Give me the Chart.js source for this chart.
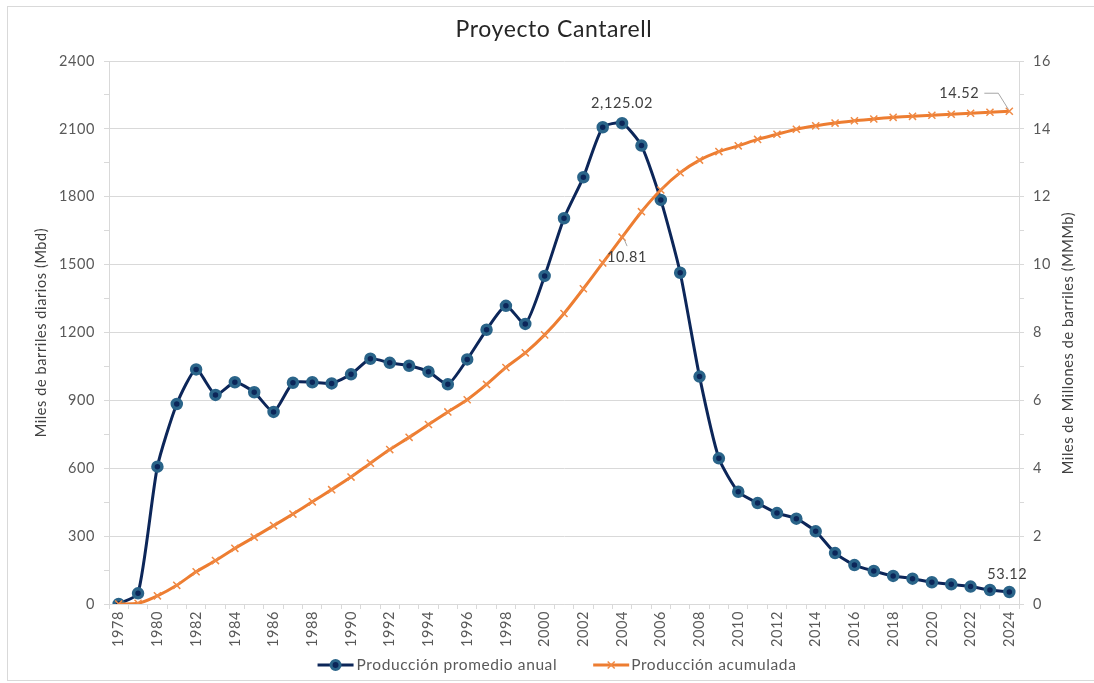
<!DOCTYPE html>
<html>
<head>
<meta charset="utf-8">
<script src="https://cdn.jsdelivr.net/npm/chart.js@4.4.1/dist/chart.umd.min.js"></script>
<style>
  html, body { margin: 0; padding: 0; background: #fff; overflow: hidden; }
  #wrap { position: relative; width: 1094px; height: 683px; }
  #frame { position: absolute; left: 7px; top: 6px; width: 1200px; height: 675px;
           border: 1px solid #d9d9d9; box-sizing: border-box; }
  canvas { position: absolute; left: 0; top: 0; }
</style>
</head>
<body>
<div id="wrap">
  <div id="frame"></div>
  <canvas id="myChart" width="1094" height="683"></canvas>
</div>
<script>
// years on the category axis
const years = [];
for (let y = 1978; y <= 2024; y++) years.push(String(y));

// Producción promedio anual (Mbd) - left axis
const prodAnual = [
    0, 47, 607, 884, 1037, 924, 980, 936, 849, 978,
    980, 975, 1015, 1084, 1066, 1053, 1027, 971, 1081, 1212,
    1318, 1238, 1450, 1705, 1886, 2107, 2125.02, 2026, 1786, 1464,
    1005, 644, 496, 446, 402, 377, 321, 225, 172, 146,
    124, 112, 96, 87, 77, 62, 53.12
];

// Producción acumulada (MMMb) - right axis
const prodAcumulada = [
    0, 0.02, 0.24, 0.55, 0.95, 1.28, 1.64, 1.97, 2.31, 2.65,
    3.01, 3.37, 3.74, 4.15, 4.55, 4.91, 5.29, 5.66, 6.02, 6.47,
    6.97, 7.40, 7.93, 8.56, 9.29, 10.05, 10.81, 11.56, 12.20, 12.71,
    13.08, 13.33, 13.50, 13.69, 13.84, 13.99, 14.09, 14.17, 14.24, 14.29,
    14.34, 14.37, 14.40, 14.43, 14.46, 14.49, 14.52
];

const leftTicks = [0, 300, 600, 900, 1200, 1500, 1800, 2100, 2400];
const rightTicks = [0, 2, 4, 6, 8, 10, 12, 14, 16];

const NAVY = '#0c2659';
const RING = '#2a6489';
const ORANGE = '#ed7d31';
const GRID = '#d9d9d9';
const TEXT = '#595959';
const FONT = 'Lato';

function fmt(v, dec) {
    return v.toLocaleString('en-US', { minimumFractionDigits: dec, maximumFractionDigits: dec });
}

// slightly wider text, like the source
const spacingPlugin = {
    id: 'spacing',
    beforeUpdate(chart) { chart.ctx.letterSpacing = '0.6px'; },
    beforeDraw(chart) { chart.ctx.letterSpacing = '0.6px'; }
};

// draw a legend sample: line with its marker on top
function drawSample(ctx, x, y, kind) {
    ctx.save();
    ctx.lineWidth = 3;
    ctx.strokeStyle = kind === 'blue' ? NAVY : ORANGE;
    ctx.beginPath(); ctx.moveTo(x, y); ctx.lineTo(x + 36, y); ctx.stroke();
    if (kind === 'blue') {
        ctx.beginPath(); ctx.arc(x + 18, y, 4.5, 0, Math.PI * 2);
        ctx.fillStyle = NAVY; ctx.fill();
        ctx.lineWidth = 3; ctx.strokeStyle = RING; ctx.stroke();
    } else {
        ctx.lineWidth = 1.5; ctx.strokeStyle = '#f08a45';
        ctx.beginPath();
        ctx.moveTo(x + 14.5, y - 3.5); ctx.lineTo(x + 21.5, y + 3.5);
        ctx.moveTo(x + 21.5, y - 3.5); ctx.lineTo(x + 14.5, y + 3.5);
        ctx.stroke();
    }
    ctx.restore();
}

// title, right axis title (reads bottom to top), legend and data labels
const extrasPlugin = {
    id: 'extras',
    afterDraw(chart) {
        const ctx = chart.ctx;

        ctx.save();
        ctx.textAlign = 'center';
        ctx.textBaseline = 'middle';
        ctx.fillStyle = '#262626';
        ctx.font = '23px ' + FONT;
        ctx.fillText('Proyecto Cantarell', 554, 30);

        ctx.fillStyle = '#404040';
        ctx.font = '14.5px ' + FONT;
        ctx.translate(1068, 343);
        ctx.rotate(-Math.PI / 2);
        ctx.fillText('Miles de Millones de barriles (MMMb)', 0, 0);
        ctx.restore();

        // legend
        ctx.save();
        ctx.font = '15.5px ' + FONT;
        ctx.fillStyle = TEXT;
        ctx.textBaseline = 'middle';
        ctx.textAlign = 'left';
        const names = chart.data.datasets.map(d => d.label);
        const w0 = ctx.measureText(names[0]).width;
        const w1 = ctx.measureText(names[1]).width;
        const total = 36 + 3 + w0 + 36 + 36 + 2 + w1;
        let lx = 557 - total / 2;
        const ly = 665;
        drawSample(ctx, lx, ly, 'blue');
        ctx.fillText(names[0], lx + 39, ly);
        lx += 39 + w0 + 36;
        drawSample(ctx, lx, ly, 'orange');
        ctx.fillText(names[1], lx + 38, ly);
        ctx.restore();

        const x = chart.scales.x;
        const yL = chart.scales.y;
        const yR = chart.scales.y1;
        ctx.save();
        ctx.font = '14.5px ' + FONT;
        ctx.fillStyle = '#404040';
        ctx.textAlign = 'center';
        ctx.textBaseline = 'middle';

        // peak of annual production
        const iPeak = 26;
        let px = x.getPixelForValue(iPeak), py = yL.getPixelForValue(prodAnual[iPeak]);
        ctx.fillText(fmt(prodAnual[iPeak], 2), px, py - 20);

        // last annual value
        const iLast = prodAnual.length - 1;
        px = x.getPixelForValue(iLast); py = yL.getPixelForValue(prodAnual[iLast]);
        ctx.fillText(fmt(prodAnual[iLast], 2), px - 2, py - 18);

        // cumulative 2004
        px = x.getPixelForValue(iPeak); py = yR.getPixelForValue(prodAcumulada[iPeak]);
        ctx.strokeStyle = '#a6a6a6'; ctx.lineWidth = 1;
        ctx.beginPath(); ctx.moveTo(px + 2, py + 2); ctx.lineTo(px + 5, py + 9); ctx.stroke();
        ctx.fillText(fmt(prodAcumulada[iPeak], 2), px + 5, py + 20);

        // cumulative last
        px = x.getPixelForValue(iLast); py = yR.getPixelForValue(prodAcumulada[iLast]);
        ctx.beginPath();
        ctx.moveTo(px - 25, py - 18); ctx.lineTo(px - 11, py - 18); ctx.lineTo(px - 1, py - 2);
        ctx.stroke();
        ctx.fillText(fmt(prodAcumulada[iLast], 2), px - 50, py - 18);
        ctx.restore();
    }
};

const ctx = document.getElementById('myChart').getContext('2d');

const chartData = {
    labels: years,
    datasets: [{
        label: 'Producción promedio anual',
        data: prodAnual,
        yAxisID: 'y',
        borderColor: NAVY,
        borderWidth: 3,
        pointStyle: 'circle',
        pointRadius: 4.5,
        pointBorderWidth: 3.5,
        pointBorderColor: RING,
        pointBackgroundColor: NAVY,
        tension: 0.2,
        order: 2
    }, {
        label: 'Producción acumulada',
        data: prodAcumulada,
        yAxisID: 'y1',
        borderColor: ORANGE,
        borderWidth: 3,
        pointStyle: 'crossRot',
        pointRadius: 5,
        pointBorderWidth: 1.5,
        pointBorderColor: '#f08a45',
        tension: 0.2,
        order: 1
    }]
};

const chartConfig = {
    type: 'line',
    data: chartData,
    plugins: [spacingPlugin, extrasPlugin],
    options: {
        responsive: false,
        animation: false,
        layout: { padding: { left: 0, right: 0, top: 61, bottom: 36 } },
        plugins: {
            title: { display: false },
            legend: { display: false },
            tooltip: { enabled: false }
        },
        scales: {
            x: {
                type: 'category',
                offset: true,
                grid: { offset: true, drawOnChartArea: false, tickLength: 5, color: GRID },
                border: { display: true, color: GRID },
                ticks: {
                    autoSkip: false,
                    maxRotation: 90,
                    minRotation: 90,
                    padding: 2,
                    color: TEXT,
                    font: { family: FONT, size: 14.5 },
                    callback(v, i) { return i % 2 === 0 ? years[i] : ''; }
                },
                afterFit(scale) { scale.height = 43; }
            },
            y: {
                position: 'left',
                min: 0,
                max: 2400,
                grid: {
                    color: (c) => leftTicks.includes(c.tick.value) ? GRID : 'transparent',
                    tickColor: GRID,
                    tickLength: 5
                },
                border: { display: true, color: GRID },
                ticks: {
                    stepSize: 150,
                    padding: 9,
                    color: TEXT,
                    font: { family: FONT, size: 14.5 },
                    callback: (v) => leftTicks.includes(v) ? String(v) : ''
                },
                title: {
                    display: true,
                    text: 'Miles de barriles diarios (Mbd)',
                    color: '#404040',
                    font: { family: FONT, size: 14.5 },
                    padding: { top: 33, bottom: 0 }
                },
                afterFit(scale) { scale.width = 109; }
            },
            y1: {
                position: 'right',
                min: 0,
                max: 16,
                grid: { drawOnChartArea: false, color: GRID, tickLength: 5 },
                border: { display: true, color: GRID },
                ticks: {
                    stepSize: 1,
                    padding: 9,
                    color: TEXT,
                    font: { family: FONT, size: 14.5 },
                    callback: (v) => rightTicks.includes(v) ? String(v) : ''
                },
                afterFit(scale) { scale.width = 75; }
            }
        }
    }
};

const myChart = new Chart(ctx, chartConfig);
</script>
</body>
</html>
